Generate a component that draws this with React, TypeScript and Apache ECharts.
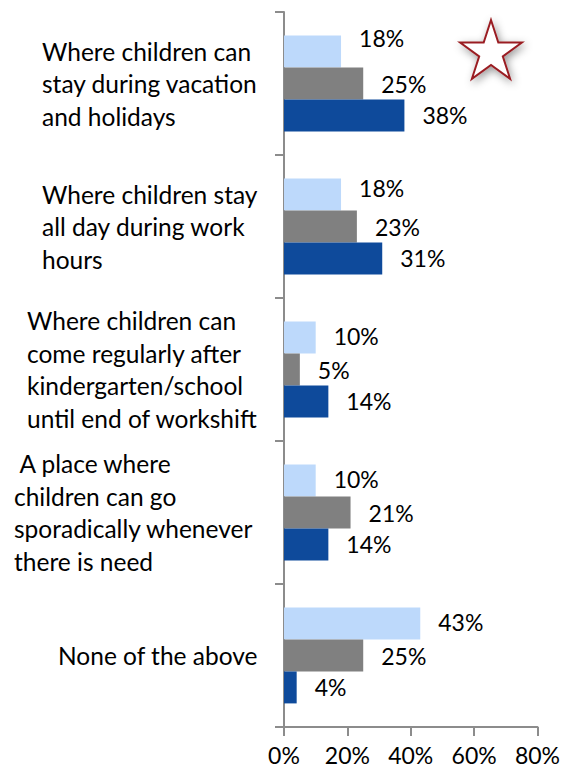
import React, { useEffect, useRef } from "react";
import * as echarts from "echarts";

const categories = [
  "Where children can\nstay during vacation\nand holidays",
  "Where children stay\nall day during work\nhours",
  "Where children can\ncome regularly after\nkindergarten/school\nuntil end of workshift",
  " A place where\nchildren can go\nsporadically whenever\nthere is need",
  "None of the above",
];
const lightSeries = [18, 18, 10, 10, 43];
const graySeries = [25, 23, 5, 21, 25];
const darkSeries = [38, 31, 14, 14, 4];
const xTicks = [0, 20, 40, 60, 80];

const FONT = "Lato, 'Noto Sans', sans-serif";
const labelStarts = [42, 42, 27, 14, 58];
const labelDrop = [0, 0, 6, 2, 0];
const lightLift = [-14, -7, -2, -2, -2];

export default function App() {
  const ref = useRef<HTMLDivElement>(null);
  useEffect(() => {
    if (!ref.current) return;
    const chart = echarts.init(ref.current, undefined, { renderer: "svg" });
    const gridLeft = 284;
    const minStart = Math.min(...labelStarts);
    const cx = 491, cy = 52.5, R = 32.5, r = R * 0.382;
    const starPts: number[][] = [];
    for (let i = 0; i < 10; i++) {
      const ang = -Math.PI / 2 + (i * Math.PI) / 5;
      const rad = i % 2 === 0 ? R : r;
      starPts.push([cx + rad * Math.cos(ang), cy + rad * Math.sin(ang)]);
    }
    const valLabel = {
      show: true,
      position: "right",
      distance: 18,
      formatter: "{c}%",
      color: "#000",
      fontSize: 23,
      fontFamily: FONT,
    };
    chart.setOption({
      animation: false,
      backgroundColor: "#fff",
      grid: {
        left: gridLeft,
        right: 25.5,
        top: 12,
        bottom: 47,
        containLabel: false,
        outerBoundsMode: "none",
      },
      xAxis: {
        type: "value",
        min: xTicks[0],
        max: xTicks[xTicks.length - 1],
        interval: 20,
        axisLine: { show: true, lineStyle: { color: "#8c8c8c", width: 2 } },
        axisTick: { show: true, length: 9, lineStyle: { color: "#8c8c8c", width: 2 } },
        splitLine: { show: false },
        axisLabel: {
          formatter: "{value}%",
          color: "#000",
          fontSize: 23,
          fontFamily: FONT,
          margin: 16,
        },
      },
      yAxis: {
        type: "category",
        inverse: true,
        data: categories.map((c, i) => ({
          value: c,
          textStyle: {
            align: "left",
            padding: [labelDrop[i] * 2, 0, 0, labelStarts[i] - minStart],
          },
        })),
        axisLine: { show: true, lineStyle: { color: "#8c8c8c", width: 2 } },
        axisTick: { show: true, length: 9, lineStyle: { color: "#8c8c8c", width: 2 } },
        axisLabel: {
          align: "left",
          margin: gridLeft - minStart,
          color: "#000",
          fontSize: 24.5,
          lineHeight: 32.5,
          fontFamily: FONT,
        },
      },
      series: [
        {
          type: "bar",
          name: "light",
          data: lightSeries.map((v, i) => ({ value: v, label: { offset: [0, lightLift[i]] } })),
          itemStyle: { color: "#bdd9fb" },
          barGap: "0%",
          barCategoryGap: "33%",
          label: valLabel,
        },
        {
          type: "bar",
          name: "gray",
          data: graySeries,
          itemStyle: { color: "#808080" },
          barGap: "0%",
          barCategoryGap: "33%",
          label: valLabel,
        },
        {
          type: "bar",
          name: "dark",
          data: darkSeries,
          itemStyle: { color: "#0e4a9b" },
          barGap: "0%",
          barCategoryGap: "33%",
          label: valLabel,
        },
      ],
      graphic: [
        {
          type: "polygon",
          shape: { points: starPts },
          style: {
            fill: "#fff",
            stroke: "#9a1f24",
            lineWidth: 2,
            shadowBlur: 8,
            shadowColor: "rgba(0,0,0,0.4)",
            shadowOffsetX: 2,
            shadowOffsetY: 3,
          },
        },
      ],
    });
    return () => chart.dispose();
  }, []);
  return (
    <div
      ref={ref}
      style={{ position: "fixed", left: 0, top: 0, width: 563, height: 774 }}
    />
  );
}
